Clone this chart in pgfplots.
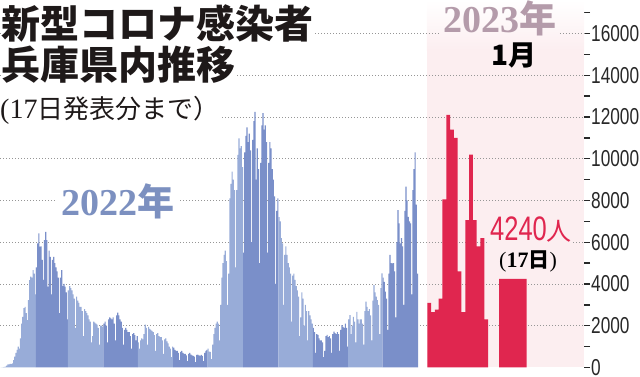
\documentclass[border=0pt]{standalone}
\usepackage{pgfplots}
\pgfplotsset{compat=1.18}
\usepackage{pgfplotstable}
\usepackage{fontspec}
\newfontfamily\jp{Noto Sans CJK JP}
\newfontfamily\serif{Liberation Serif}
\newfontfamily\cond{Liberation Sans}[FakeStretch=0.75]
\definecolor{lightb}{RGB}{152,172,216}
\definecolor{darkb}{RGB}{122,143,201}
\definecolor{redc}{RGB}{224,38,79}
\definecolor{pinkbg}{RGB}{252,238,240}
\definecolor{gridc}{RGB}{150,150,150}
\definecolor{blue22}{RGB}{124,144,192}
\definecolor{mauve}{RGB}{180,155,170}
\definecolor{tickc}{RGB}{40,40,40}
\definecolor{titc}{RGB}{30,25,25}

\pgfplotstableread[row sep=\\]{
v\\
9\\ 8\\ 18\\ 30\\ 47\\ 91\\ 150\\
150\\ 170\\ 160\\ 200\\ 350\\ 520\\ 700\\
840\\ 1000\\ 900\\ 1400\\ 2100\\ 2430\\ 2850\\
2900\\ 2600\\ 2270\\ 3230\\ 4190\\ 4350\\ 4300\\
4670\\ 4500\\ 3500\\ 4800\\ 5950\\ 6430\\ 5790\\
5800\\ 5150\\ 4200\\ 6100\\ 6500\\ 6100\\ 3870\\
5600\\ 5300\\ 3500\\ 5150\\ 5300\\ 5000\\ 4800\\
4600\\ 4300\\ 2600\\ 4300\\ 4670\\ 3900\\ 4000\\
3870\\ 3600\\ 2300\\ 3700\\ 3900\\ 3800\\ 3700\\
3500\\ 3300\\ 1900\\ 3400\\ 3200\\ 3100\\ 2900\\
2900\\ 2700\\ 1500\\ 2800\\ 2700\\ 2600\\ 2500\\
2300\\ 2200\\ 1200\\ 1500\\ 2200\\ 2150\\ 2100\\
2050\\ 1900\\ 1100\\ 2000\\ 2000\\ 1950\\ 2100\\
2200\\ 2000\\ 1200\\ 2300\\ 2400\\ 2350\\ 2300\\
2400\\ 2100\\ 1300\\ 2500\\ 2630\\ 2500\\ 2300\\
2200\\ 1900\\ 1100\\ 1800\\ 1900\\ 1800\\ 1700\\
1700\\ 1500\\ 900\\ 1600\\ 1650\\ 1550\\ 1300\\
1500\\ 1200\\ 900\\ 1300\\ 1400\\ 1350\\ 1600\\
2050\\ 1900\\ 1100\\ 1950\\ 1850\\ 1800\\ 1750\\
1700\\ 1550\\ 800\\ 1600\\ 1650\\ 1500\\ 1450\\
1450\\ 1300\\ 650\\ 1350\\ 1400\\ 1250\\ 1150\\
1000\\ 900\\ 500\\ 1000\\ 950\\ 850\\ 800\\
800\\ 700\\ 350\\ 750\\ 800\\ 700\\ 650\\
650\\ 580\\ 300\\ 650\\ 700\\ 620\\ 580\\
560\\ 520\\ 260\\ 600\\ 620\\ 580\\ 560\\
600\\ 560\\ 300\\ 700\\ 800\\ 850\\ 900\\
760\\ 750\\ 400\\ 1100\\ 1600\\ 1900\\ 2100\\
2200\\ 2100\\ 1300\\ 3000\\ 4300\\ 5000\\ 5400\\
5600\\ 5100\\ 3000\\ 4500\\ 8100\\ 8800\\ 9380\\
9000\\ 8500\\ 4800\\ 8500\\ 10180\\ 10980\\ 10500\\
10600\\ 9600\\ 5500\\ 10300\\ 11100\\ 11500\\ 10800\\
11200\\ 10400\\ 6000\\ 10900\\ 11800\\ 12250\\ 9000\\
10500\\ 9500\\ 5000\\ 9800\\ 11600\\ 12180\\ 11400\\
11600\\ 10800\\ 5500\\ 9800\\ 10800\\ 10500\\ 9500\\
9000\\ 8200\\ 4000\\ 7500\\ 8100\\ 7200\\ 7000\\
6200\\ 5950\\ 3000\\ 5400\\ 5800\\ 5400\\ 5000\\
4800\\ 4500\\ 2200\\ 4400\\ 4500\\ 4200\\ 3900\\
3700\\ 3400\\ 1500\\ 2400\\ 3600\\ 3300\\ 2000\\
3000\\ 2700\\ 1300\\ 2700\\ 2500\\ 2300\\ 2100\\
1900\\ 1700\\ 700\\ 1600\\ 1560\\ 1400\\ 1300\\
1300\\ 1200\\ 500\\ 800\\ 1500\\ 1560\\ 1450\\
1500\\ 1400\\ 700\\ 1600\\ 1720\\ 1650\\ 1600\\
1700\\ 1600\\ 800\\ 1800\\ 2030\\ 1950\\ 1900\\
2100\\ 1900\\ 1000\\ 2300\\ 2510\\ 1600\\ 2000\\
2430\\ 2200\\ 1200\\ 2670\\ 2300\\ 2100\\ 2300\\
2300\\ 2100\\ 1100\\ 2700\\ 3150\\ 2900\\ 2700\\
2800\\ 2500\\ 1300\\ 3200\\ 3950\\ 3600\\ 3400\\
3230\\ 3000\\ 1600\\ 3800\\ 4510\\ 4300\\ 4100\\
3630\\ 3300\\ 1800\\ 4500\\ 5390\\ 5000\\ 4990\\
5000\\ 4600\\ 2400\\ 6000\\ 7540\\ 6900\\ 5950\\
6200\\ 5800\\ 3000\\ 7500\\ 8660\\ 8000\\ 7220\\
7000\\ 6900\\ 3500\\ 8500\\ 9500\\ 10300\\ 7800\\
4500\\ 4500\\
}\daily

\begin{document}
\begin{tikzpicture}
\begin{axis}[
  at={(0pt,0pt)}, anchor=south west,
  width=584pt, height=377pt, scale only axis,
  xmin=-0.44, xmax=510.1, ymin=-455, ymax=17605,
  axis x line=none,
  axis y line*=right,
  y axis line style={draw=none},
  ytick={0,2000,...,16000},
  minor ytick={1000,3000,...,17000},
  scaled y ticks=false,
  tick align=outside,
  major tick length=6pt, minor tick length=6pt,
  tick style={line width=1.4pt, color=tickc},
  yticklabel style={font=\cond\fontsize{23}{23}\selectfont, text=tickc, inner sep=1pt, anchor=west},
  yticklabel={\pgfmathprintnumber[fixed, precision=0, 1000 sep={}, assume math mode=true]{\tick}},
  clip=false,
]
% 2023 background
\fill[pinkbg] (axis cs:372.8,0) rectangle (axis cs:510.1,15200);
\shade[top color=white, bottom color=pinkbg] (axis cs:372.8,15199) rectangle (axis cs:510.1,17605);
% grid lines
\draw[gridc, line width=0.9pt, dash pattern=on 0.9pt off 2.1pt] (axis cs:-0.44,2000) -- (axis cs:510.1,2000);
\draw[gridc, line width=0.9pt, dash pattern=on 0.9pt off 2.1pt] (axis cs:-0.44,4000) -- (axis cs:510.1,4000);
\draw[gridc, line width=0.9pt, dash pattern=on 0.9pt off 2.1pt] (axis cs:-0.44,6000) -- (axis cs:510.1,6000);
\draw[gridc, line width=0.9pt, dash pattern=on 0.9pt off 2.1pt] (axis cs:-0.44,8000) -- (axis cs:510.1,8000);
\draw[gridc, line width=0.9pt, dash pattern=on 0.9pt off 2.1pt] (axis cs:-0.44,10000) -- (axis cs:510.1,10000);
\draw[gridc, line width=0.9pt, dash pattern=on 0.9pt off 2.1pt] (axis cs:-0.44,12000) -- (axis cs:510.1,12000);
\draw[gridc, line width=0.9pt, dash pattern=on 0.9pt off 2.1pt] (axis cs:-0.44,14000) -- (axis cs:510.1,14000);
\draw[gridc, line width=0.9pt, dash pattern=on 0.9pt off 2.1pt] (axis cs:-0.44,16000) -- (axis cs:384.2,16000);
\draw[gridc, line width=0.9pt, dash pattern=on 0.9pt off 2.1pt] (axis cs:489.1,16000) -- (axis cs:510.1,16000);
% 2022 daily, month by month
\addplot[fill=lightb, draw=none, const plot mark left, restrict x to domain=0:31] table[x expr=\coordindex, y=v] {\daily} \closedcycle;
\addplot[fill=darkb, draw=none, const plot mark left, restrict x to domain=31:59] table[x expr=\coordindex, y=v] {\daily} \closedcycle;
\addplot[fill=lightb, draw=none, const plot mark left, restrict x to domain=59:90] table[x expr=\coordindex, y=v] {\daily} \closedcycle;
\addplot[fill=darkb, draw=none, const plot mark left, restrict x to domain=90:120] table[x expr=\coordindex, y=v] {\daily} \closedcycle;
\addplot[fill=lightb, draw=none, const plot mark left, restrict x to domain=120:151] table[x expr=\coordindex, y=v] {\daily} \closedcycle;
\addplot[fill=darkb, draw=none, const plot mark left, restrict x to domain=151:181] table[x expr=\coordindex, y=v] {\daily} \closedcycle;
\addplot[fill=lightb, draw=none, const plot mark left, restrict x to domain=181:212] table[x expr=\coordindex, y=v] {\daily} \closedcycle;
\addplot[fill=darkb, draw=none, const plot mark left, restrict x to domain=212:243] table[x expr=\coordindex, y=v] {\daily} \closedcycle;
\addplot[fill=lightb, draw=none, const plot mark left, restrict x to domain=243:273] table[x expr=\coordindex, y=v] {\daily} \closedcycle;
\addplot[fill=darkb, draw=none, const plot mark left, restrict x to domain=273:304] table[x expr=\coordindex, y=v] {\daily} \closedcycle;
\addplot[fill=lightb, draw=none, const plot mark left, restrict x to domain=304:334] table[x expr=\coordindex, y=v] {\daily} \closedcycle;
\addplot[fill=darkb, draw=none, const plot mark left, restrict x to domain=334:365] table[x expr=\coordindex, y=v] {\daily} \closedcycle;
% 2023 January
\addplot[fill=redc, draw=none, const plot mark left] coordinates {
(373.10,3100) (376.42,2650) (379.74,2770) (383.06,3300) (386.38,8050)
(389.70,12100) (393.02,11400) (396.34,11000) (399.66,4600) (402.98,2650)
(406.30,7060) (409.62,10200) (412.94,7060) (416.26,5800) (419.58,6200)
(422.90,2300) (426.22,2300)} \closedcycle;
\addplot[fill=redc, draw=none, const plot mark left] coordinates {(435.8,4240) (460.0,4240)} \closedcycle;
\end{axis}
% texts
\node[anchor=base west, inner sep=0pt, fill=white, text=titc] at (1pt,338pt) {\jp\bfseries\fontsize{39}{39}\selectfont 新型コロナ感染者};
\node[anchor=base west, inner sep=0pt, fill=white, text=titc] at (1pt,297pt) {\jp\bfseries\fontsize{39}{39}\selectfont 兵庫県内推移};
\node[anchor=base west, inner sep=0pt, fill=white, text=titc] at (0pt,258pt) {\serif\fontsize{28}{28}\selectfont(17\jp\fontsize{26}{26}\selectfont 日発表分まで）};
\node[anchor=base west, inner xsep=5pt, inner ysep=1pt, fill=white, text=blue22] at (56pt,161pt) {\serif\bfseries\fontsize{38}{38}\selectfont 2022\jp\fontsize{37}{37}\selectfont 年};
\node[anchor=base west, inner sep=0pt, text=mauve] at (443pt,344pt) {\serif\bfseries\fontsize{38}{38}\selectfont 2023\jp\fontsize{37}{37}\selectfont 年};
\node[anchor=base west, inner sep=0pt, text=black] at (491pt,311pt) {\jp\bfseries\fontsize{28}{28}\selectfont 1月};
\node[anchor=base west, inner sep=1pt, fill=pinkbg, text=redc] at (489pt,136pt) {\cond\fontsize{34}{34}\selectfont 4240\jp\fontsize{25}{25}\selectfont 人};
\node[anchor=base west, inner sep=0pt, text=black] at (499pt,109pt) {\serif\fontsize{22}{22}\selectfont(\bfseries 17\jp\fontsize{21}{21}\selectfont 日\serif\mdseries\fontsize{22}{22}\selectfont)};
\pgfresetboundingbox
\path[use as bounding box] (0pt,0pt) rectangle (640pt,377pt);
\end{tikzpicture}
\end{document}
